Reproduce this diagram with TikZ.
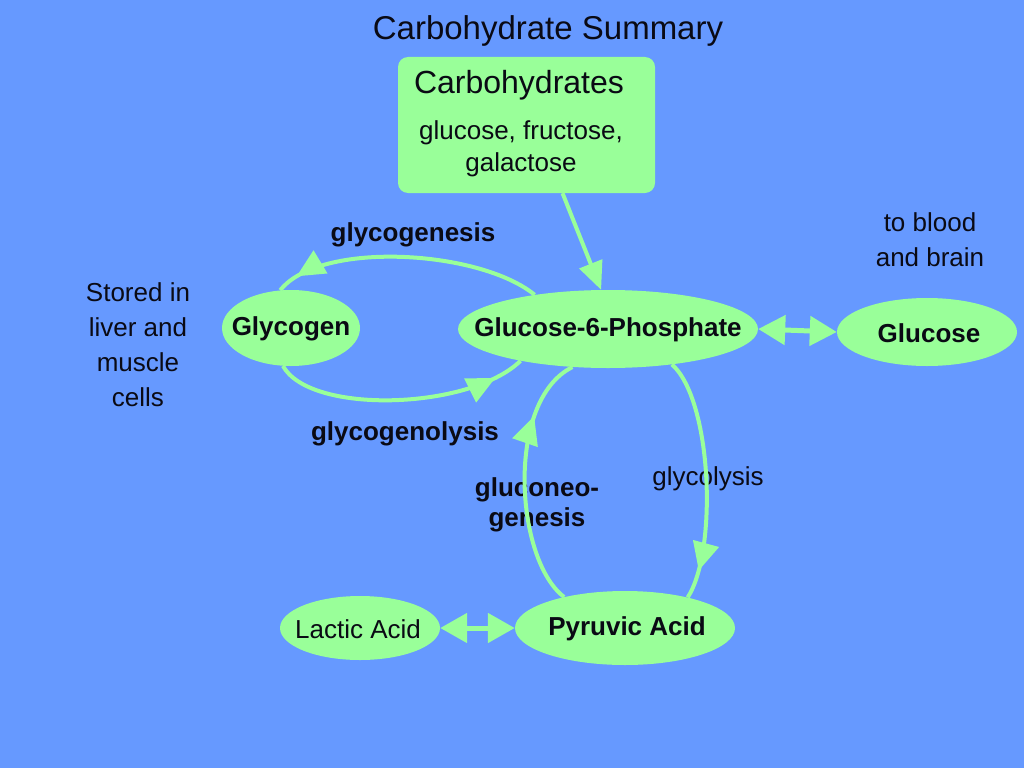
\documentclass[tikz,border=0pt]{standalone}
\usepackage{fontspec}
\setmainfont{Liberation Sans}
\usetikzlibrary{shapes.geometric,arrows.meta,decorations.markings,calc}
\definecolor{bg}{RGB}{102,153,255}
\definecolor{grn}{RGB}{153,255,153}
\definecolor{ink}{RGB}{10,10,20}
\begin{document}
\begin{tikzpicture}[x=1pt,y=-1pt,
  ell/.style={ellipse,fill=grn,inner sep=0pt,draw=none},
  lbl/.style={font=\fontsize{26}{35}\selectfont, text=ink, align=center, inner sep=0pt},
  blbl/.style={font=\fontsize{26}{30}\selectfont\bfseries, text=ink, align=center, inner sep=0pt},
  conn/.style={draw=grn, line width=4pt},
  tipm/.style={decoration={markings, mark=at position #1 with {\arrow[grn]{Triangle[length=28pt,width=26pt]}}}, postaction={decorate}},
  dbl/.style={draw=grn, line width=5pt, {Triangle[length=27pt,width=29pt]}-{Triangle[length=27pt,width=29pt]}},
]
\useasboundingbox (0,0) rectangle (1024,768);
\fill[bg] (0,0) rectangle (1024,768);

% title
\node[lbl, font=\fontsize{33}{36}\selectfont] (title) at (548,31) {Carbohydrate Summary};

% carbohydrates box
\node[fill=grn, rounded corners=10pt, minimum width=257pt, minimum height=136pt, inner sep=0pt] (carb) at (526.5,125) {};
\node[lbl, font=\fontsize{32}{36}\selectfont] (carbt) at (519,85) {Carbohydrates};
\node[lbl, font=\fontsize{26}{32}\selectfont] (carbs) at (521,149) {glucose, fructose,\\galactose};

% ellipses
\node[ell, minimum width=300pt, minimum height=78pt] (g6p) at (608,329) {};
\node[blbl] (g6pt) at (608,330) {Glucose-6-Phosphate};
\node[ell, minimum width=138pt, minimum height=76pt] (gly) at (291,328) {};
\node[blbl] (glyt) at (291,329) {Glycogen};
\node[ell, minimum width=180pt, minimum height=68pt] (glu) at (927,332) {};
\node[blbl] (glut) at (929,333) {Glucose};
\node[ell, minimum width=220pt, minimum height=74pt] (pyr) at (625,628) {};
\node[blbl] (pyrt) at (627,629) {Pyruvic Acid};
\node[ell, minimum width=160pt, minimum height=64pt] (lac) at (360,628) {};
\node[lbl] (lact) at (358,629) {Lactic Acid};

% side labels
\node[lbl] (stored) at (138,345) {Stored in\\liver and\\muscle\\cells};
\node[lbl] (blood) at (930,240) {to blood\\and brain};
\node[blbl] (lgen) at (413,235) {glycogenesis};
\node[blbl] (llys) at (405,434) {glycogenolysis};
\node[blbl] (lneo) at (537,505) {gluconeo-\\genesis};
\node[lbl] (lgly) at (708,479) {glycolysis};

% connectors
\coordinate (cs) at ($(carb.south west)!0.64!(carb.south east)$);
\draw[conn, -{Triangle[length=28pt,width=24pt]}] (cs) -- (g6p.100);

\draw[conn, tipm=0.92] (g6p.155) .. controls (480,250) and (320,240) .. (gly.106);
\draw[conn, tipm=0.88] (gly.258) .. controls (310,415) and (470,410) .. (g6p.200);
\draw[conn, tipm=0.75] (pyr.153) .. controls (515,560) and (505,400) .. (g6p.227);
\draw[conn, tipm=0.88] (g6p.331) .. controls (712,400) and (718,550) .. (pyr.26);

\draw[dbl] (g6p.east) -- (glu.west);
\draw[dbl] (lac.east) -- (pyr.west);
\end{tikzpicture}
\end{document}
